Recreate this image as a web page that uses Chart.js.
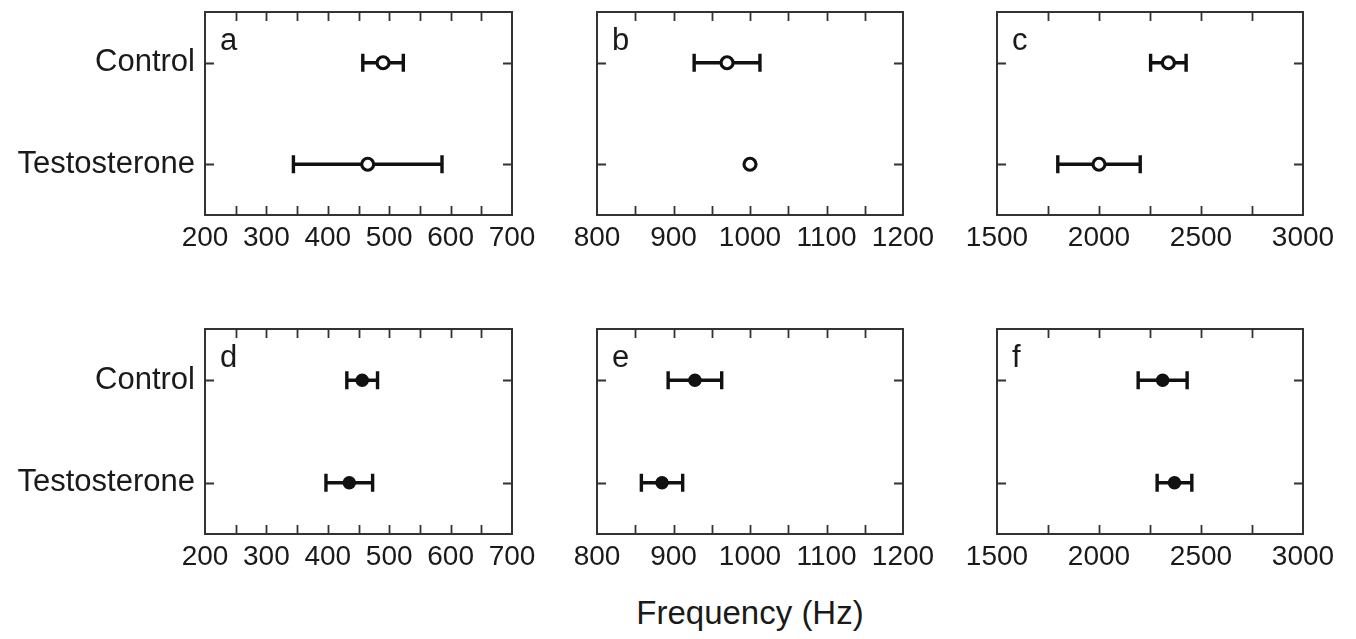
<!DOCTYPE html>
<html>
<head>
<meta charset="utf-8">
<script src="https://cdn.jsdelivr.net/npm/chart.js@4.4.0/dist/chart.umd.min.js"></script>
<style>
  html, body { margin: 0; padding: 0; background: #fff; }
  #wrap { position: relative; width: 1356px; height: 639px; overflow: hidden; }
  #wrap canvas { position: absolute; }
  #xtitle {
    position: absolute; left: 550px; width: 400px; top: 596px;
    text-align: center; font: 33px/33px "Liberation Sans", Arial, sans-serif; color: #1a1a1a;
  }
</style>
</head>
<body>
<div id="wrap">
  <canvas id="pa"></canvas>
  <canvas id="pb"></canvas>
  <canvas id="pc"></canvas>
  <canvas id="pd"></canvas>
  <canvas id="pe"></canvas>
  <canvas id="pf"></canvas>
  <div id="xtitle">Frequency (Hz)</div>
</div>
<script>
// categories on the y axis (top to bottom)
const categories = ['Control', 'Testosterone'];

// mean frequency (Hz) and error (+/-) per panel, in category order
const meanA = [490, 465];   const errA = [33, 121];
const meanB = [970, 1000];  const errB = [43, 0];
const meanC = [2340, 2000]; const errC = [87, 202];
const meanD = [456, 435];   const errD = [25, 38];
const meanE = [928, 885];   const errE = [35, 27];
const meanF = [2312, 2370]; const errF = [120, 85];

// x axis ranges per column
const xMin = [200, 800, 1500];
const xMax = [700, 1200, 3000];
const xLabelStep = [100, 100, 500];
const xMinorStep = [50, 50, 250];

const ink = '#111';
const fontFamily = '"Liberation Sans", Arial, Helvetica, sans-serif';
Chart.defaults.font.family = fontFamily;
Chart.defaults.color = '#1a1a1a';

// canvas placement (pixels) so the plot boxes line up like the figure
const colGeom = [
  { left: 0,   width: 560, L: 205, R: 512 },
  { left: 550, width: 400, L: 47,  R: 353 },
  { left: 950, width: 406, L: 47,  R: 353 }
];
const rowGeom = [
  { top: -20, height: 290, T: 32, B: 235 },
  { top: 290, height: 290, T: 39, B: 244 }
];

// frame, inward ticks, error bars and the panel letter
const panelPlugin = {
  id: 'panelPlugin',
  beforeDatasetsDraw(chart, args, opts) {
    const ctx = chart.ctx;
    const a = chart.chartArea;
    const xs = chart.scales.x, ys = chart.scales.y;
    ctx.save();

    // box
    ctx.strokeStyle = '#333';
    ctx.lineWidth = 2;
    ctx.strokeRect(a.left, a.top, a.right - a.left, a.bottom - a.top);

    // x ticks, top and bottom, pointing in
    const tl = 9;
    ctx.lineWidth = 1.8;
    ctx.beginPath();
    for (let v = xs.min + opts.minor; v < xs.max; v += opts.minor) {
      const px = Math.round(xs.getPixelForValue(v)) + 0.5;
      ctx.moveTo(px, a.bottom); ctx.lineTo(px, a.bottom - tl);
      ctx.moveTo(px, a.top);    ctx.lineTo(px, a.top + tl);
    }
    // y ticks, left and right
    categories.forEach((c, i) => {
      const py = Math.round(ys.getPixelForValue(i)) + 0.5;
      ctx.moveTo(a.left, py);  ctx.lineTo(a.left + tl, py);
      ctx.moveTo(a.right, py); ctx.lineTo(a.right - tl, py);
    });
    ctx.stroke();

    // error bars with end caps
    ctx.strokeStyle = ink;
    ctx.lineWidth = 3.4;
    const cap = 9;
    opts.means.forEach((m, i) => {
      const e = opts.errs[i];
      if (!e) return;
      const y = ys.getPixelForValue(i);
      const x0 = xs.getPixelForValue(m - e);
      const x1 = xs.getPixelForValue(m + e);
      ctx.beginPath();
      ctx.moveTo(x0, y); ctx.lineTo(x1, y);
      ctx.moveTo(x0, y - cap); ctx.lineTo(x0, y + cap);
      ctx.moveTo(x1, y - cap); ctx.lineTo(x1, y + cap);
      ctx.stroke();
    });

    // panel letter
    ctx.fillStyle = '#1a1a1a';
    ctx.font = '31px ' + fontFamily;
    ctx.textBaseline = 'alphabetic';
    ctx.fillText(opts.letter, a.left + 15, a.top + 38);
    ctx.restore();
  }
};

function makePanel(id, col, row, means, errs, filled, letter) {
  const cg = colGeom[col], rg = rowGeom[row];
  const cv = document.getElementById(id);
  cv.width = cg.width; cv.height = rg.height;
  cv.style.left = cg.left + 'px'; cv.style.top = rg.top + 'px';
  cv.style.width = cg.width + 'px'; cv.style.height = rg.height + 'px';

  new Chart(cv.getContext('2d'), {
    type: 'scatter',
    data: {
      datasets: [{
        data: means.map((m, i) => ({ x: m, y: categories[i] })),
        pointRadius: 6,
        pointBorderWidth: filled ? 1.5 : 3.2,
        pointBackgroundColor: filled ? ink : '#fff',
        pointBorderColor: ink
      }]
    },
    options: {
      responsive: false,
      animation: false,
      layout: { padding: { left: 0, top: rg.T, right: cg.width - cg.R, bottom: 0 } },
      plugins: {
        legend: { display: false },
        tooltip: { enabled: false },
        panelPlugin: { means, errs, letter, minor: xMinorStep[col] }
      },
      scales: {
        x: {
          type: 'linear',
          min: xMin[col], max: xMax[col],
          grid: { display: false, drawTicks: false },
          border: { display: false },
          ticks: {
            stepSize: xLabelStep[col],
            padding: 6,
            font: { size: 28 },
            color: '#1a1a1a',
            maxRotation: 0,
            callback: v => String(v)
          },
          afterFit: s => { s.height = rg.height - rg.B; }
        },
        y: {
          type: 'category',
          labels: categories,
          offset: true,
          grid: { display: false, drawTicks: false },
          border: { display: false },
          ticks: {
            display: col === 0,
            padding: 10,
            font: { size: 31 },
            color: '#1a1a1a'
          },
          afterFit: s => { s.width = cg.L; }
        }
      }
    },
    plugins: [panelPlugin]
  });
}

makePanel('pa', 0, 0, meanA, errA, false, 'a');
makePanel('pb', 1, 0, meanB, errB, false, 'b');
makePanel('pc', 2, 0, meanC, errC, false, 'c');
makePanel('pd', 0, 1, meanD, errD, true, 'd');
makePanel('pe', 1, 1, meanE, errE, true, 'e');
makePanel('pf', 2, 1, meanF, errF, true, 'f');
</script>
</body>
</html>
